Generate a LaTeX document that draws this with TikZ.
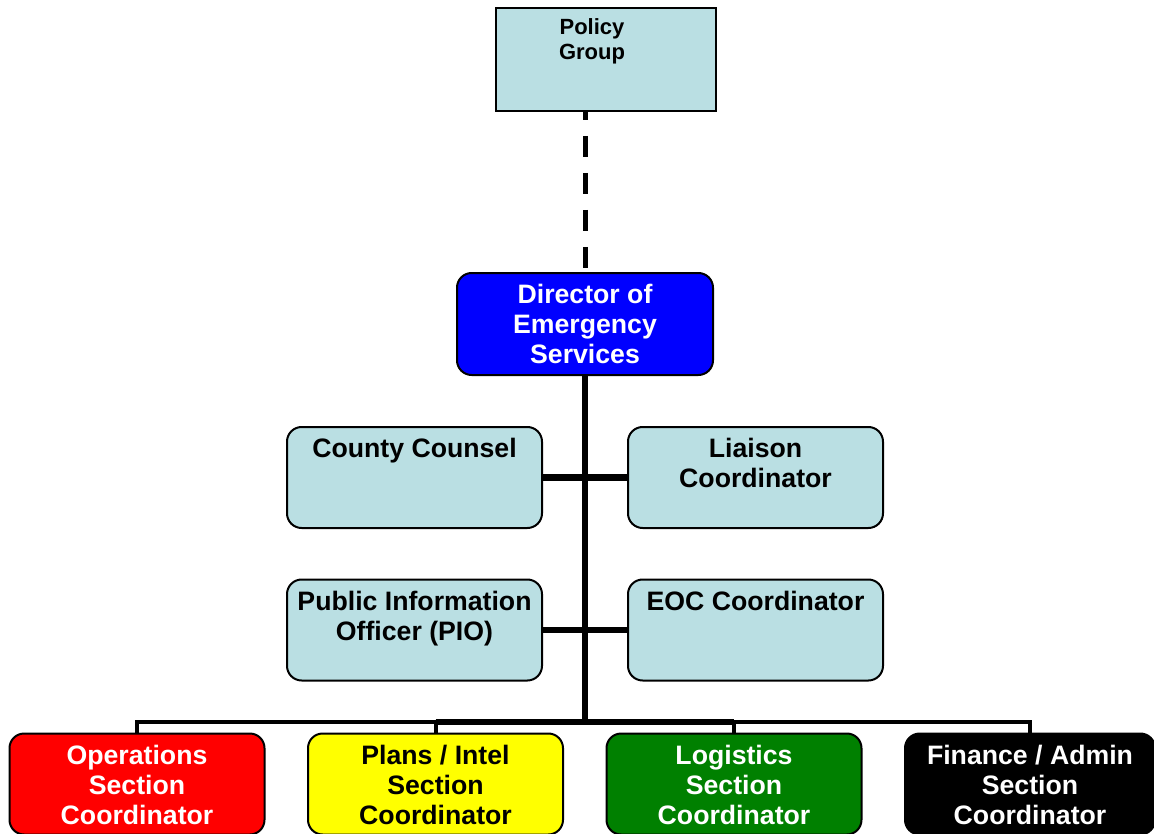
\documentclass[tikz,border=0pt]{standalone}
\usepackage{fontspec}
\setmainfont{Liberation Sans}
\usetikzlibrary{positioning}
\definecolor{paleblue}{RGB}{186,223,227}
\definecolor{dirblue}{RGB}{0,0,255}
\definecolor{opsred}{RGB}{255,0,0}
\definecolor{planyellow}{RGB}{255,255,0}
\definecolor{loggreen}{RGB}{0,128,0}
\begin{document}
\begin{tikzpicture}[x=0.75pt,y=-0.75pt,
		box/.style={draw, line width=1.5pt, rounded corners=11pt, inner sep=0pt, minimum width=191.25pt, minimum height=75.75pt},
		txt/.style={anchor=north, yshift=-9pt, inner sep=0pt, align=center, font=\fontsize{20}{22.5}\selectfont\bfseries},
		trunk/.style={line width=4.8pt},
		bus/.style={line width=3pt}]
		\useasboundingbox (0,0) rectangle (1154,833);
		% top of the chart
		\node[draw, line width=1.2pt, fill=paleblue, inner sep=0pt, minimum width=165pt, minimum height=77.25pt,
			label={[txt, yshift=1pt, xshift=-10.5pt, font=\fontsize{16.5}{18.75}\selectfont\bfseries]north:{Policy\\Group}}] (pol) at (606,59.5) {};
		\node[box, fill=dirblue, minimum width=192pt, minimum height=76.5pt,
			label={[txt, text=white]north:{Director of\\Emergency\\Services}}] (dir) at (585,324) {};
		\draw[line width=3.75pt, dash pattern=on 15.75pt off 12pt, dash phase=9.75pt] (dir.north |- pol.south) -- (dir.north);
		% staff
		\node[box, fill=paleblue, label={[txt]north:{County Counsel}}] (cc) at (414.5,477.5) {};
		\node[box, fill=paleblue, label={[txt]north:{Liaison\\Coordinator}}] (li) at (755.5,477.5) {};
		\node[box, fill=paleblue, label={[txt]north:{Public Information\\Officer (PIO)}}] (pio) at (414.5,630) {};
		\node[box, fill=paleblue, label={[txt]north:{EOC Coordinator}}] (eoc) at (755.5,630) {};
		\coordinate (bus) at (585,722);
		\draw[trunk] (dir.south) -- (bus);
		\draw[trunk] (cc.east) -- (li.west);
		\draw[trunk] (pio.east) -- (eoc.west);
		% sections
		\node[box, fill=opsred, label={[txt, text=white]north:{Operations\\Section\\Coordinator}}] (ops) at (137,784) {};
		\node[box, fill=planyellow, label={[txt]north:{Plans / Intel\\Section\\Coordinator}}] (plan) at (435.5,784) {};
		\node[box, fill=loggreen, label={[txt, text=white]north:{Logistics\\Section\\Coordinator}}] (log) at (734,784) {};
		\node[box, fill=black, minimum width=187.5pt, label={[txt, text=white]north:{Finance / Admin\\Section\\Coordinator}}] (fin) at (1030,784) {};
		\draw[bus] (ops.north) -- (ops.north |- bus) -- (plan.north |- bus);
		\draw[trunk] (plan.north |- bus) -- (log.north |- bus);
		\draw[bus] (log.north |- bus) -- (fin.north |- bus) -- (fin.north);
		\draw[bus] (plan.north |- bus) -- (plan.north); \draw[bus] (log.north |- bus) -- (log.north);
	\end{tikzpicture}
\end{document}
